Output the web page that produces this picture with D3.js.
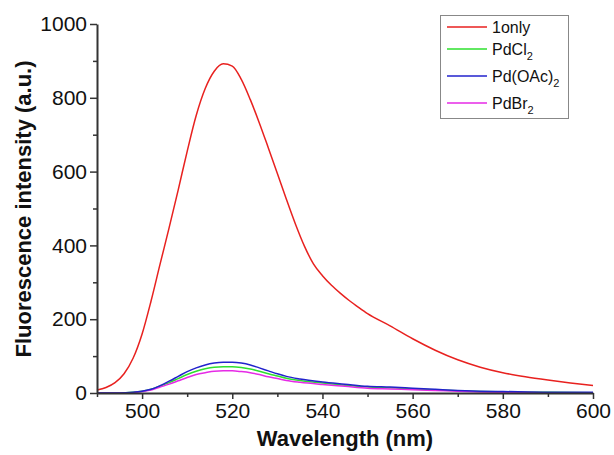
<!DOCTYPE html>
<html>
<head>
<meta charset="utf-8">
<script src="https://cdn.jsdelivr.net/npm/d3@7"></script>
<style>
  html, body { margin: 0; padding: 0; background: #fff; }
  svg { display: block; }
  text { font-family: "Liberation Sans", Arial, sans-serif; }
</style>
</head>
<body>
<script>
// ---- data ----
const wlRed = [490,492,494,496,498,500,502,504,506,508,510,512,514,516,518,520,522,524,526,528,530,532,534,536,538,540,542,544,546,548,550,555,560,565,570,575,580,585,590,595,600];
const only1 = [8,15,28,52,94,160,250,350,448,550,655,752,825,872,892,886,850,795,732,664,595,525,458,398,350,318,292,270,250,232,215,182,147,116,90,70,55,44,35,27,20];

const wlLow = [490,495,498,500,502,504,506,508,510,512,514,516,518,520,522,524,526,528,530,532,535,540,545,550,555,560,565,570,575,580,590,600];
const pdOAc2 = [0,0,2,5,10,20,32,45,58,68,76,81,83,83,81,76,68,60,52,45,38,30,24,18,16,13,10,7,5,4,2,2];
const pdCl2  = [0,0,2,5,10,19,28,39,50,59,66,70,71,71,69,65,59,52,46,40,34,27,21,16,14,11,8,6,4,3,2,1];
const pdBr2  = [0,0,1,4,8,16,24,33,42,50,55,59,60,60,58,55,50,44,39,34,29,23,18,13,11,9,7,5,3,2,1,1];

const xTicks = [500,520,540,560,580,600];
const yTicks = [0,200,400,600,800,1000];
const seriesNames = ["1only","PdCl","Pd(OAc)","PdBr"];
const seriesSubs = ["","2","2","2"];
const seriesColors = ["#e8211f","#2ee02e","#2222cc","#e62ae6"];

// ---- layout ----
const W = 614, H = 455;
const svg = d3.select("body").append("svg").attr("width", W).attr("height", H);
const x = d3.scaleLinear().domain([490,600]).range([97,593]);
const y = d3.scaleLinear().domain([0,1000]).range([393,24]);

const series = [
  {name: 0, xs: wlRed, ys: only1},
  {name: 1, xs: wlLow, ys: pdCl2},
  {name: 3, xs: wlLow, ys: pdBr2},
  {name: 2, xs: wlLow, ys: pdOAc2}
];

const line = d3.line().curve(d3.curveMonotoneX);
series.forEach(s => {
  const pts = s.xs.map((w,i) => [x(w), y(s.ys[i])]);
  svg.append("path").attr("d", line(pts)).attr("fill","none")
    .attr("stroke", seriesColors[s.name]).attr("stroke-width", 1.5);
});

// ---- axes ----
const axCol = "#333";
const yMinor = d3.range(100,1000,200);
const xMinor = d3.range(490,600,10).filter(v => !xTicks.includes(v));

svg.append("g").attr("transform","translate(97,0)")
  .call(d3.axisLeft(y).tickValues(yTicks).tickFormat(d3.format("d")).tickSize(7).tickSizeOuter(0).tickPadding(3));
const yAxisMinor = svg.append("g").attr("transform","translate(97,0)")
  .call(d3.axisLeft(y).tickValues(yMinor).tickSize(4).tickFormat(""));
yAxisMinor.select(".domain").remove();

svg.append("g").attr("transform","translate(0,393)")
  .call(d3.axisBottom(x).tickValues(xTicks).tickFormat(d3.format("d")).tickSize(6).tickSizeOuter(0).tickPadding(4));
const xAxisMinor = svg.append("g").attr("transform","translate(0,393)")
  .call(d3.axisBottom(x).tickValues(xMinor).tickSize(4).tickFormat(""));
xAxisMinor.select(".domain").remove();

svg.selectAll(".domain").attr("stroke", axCol).attr("stroke-width", 2);
svg.selectAll(".tick line").attr("stroke", axCol).attr("stroke-width", 1.5);
svg.selectAll(".tick text").attr("fill","#111").style("font-size","21px")
  .style("font-family","'Liberation Sans', Arial, sans-serif");

// ---- titles ----
svg.append("text").attr("x", 345).attr("y", 446).attr("text-anchor","middle")
  .style("font-size","22px").style("font-weight","bold").attr("fill","#111")
  .text("Wavelength (nm)");
svg.append("text").attr("transform","translate(31,209) rotate(-90)").attr("text-anchor","middle")
  .style("font-size","22px").style("font-weight","bold").attr("fill","#111")
  .text("Fluorescence intensity (a.u.)");

// ---- legend ----
const lg = svg.append("g");
lg.append("rect").attr("x",440.5).attr("y",15.5).attr("width",128).attr("height",103)
  .attr("fill","#fff").attr("stroke","#888").attr("stroke-width",1);
const rowY = [27,49,76,103];
seriesNames.forEach((n,i) => {
  lg.append("line").attr("x1",447).attr("x2",487).attr("y1",rowY[i]).attr("y2",rowY[i])
    .attr("stroke", seriesColors[i]).attr("stroke-width",1.5);
  const t = lg.append("text").attr("x",492).attr("y",rowY[i]+6).attr("fill","#111")
    .style("font-size","16px");
  t.append("tspan").text(n);
  if (seriesSubs[i]) t.append("tspan").attr("dy",5).style("font-size","11px").text(seriesSubs[i]);
});
</script>
</body>
</html>
